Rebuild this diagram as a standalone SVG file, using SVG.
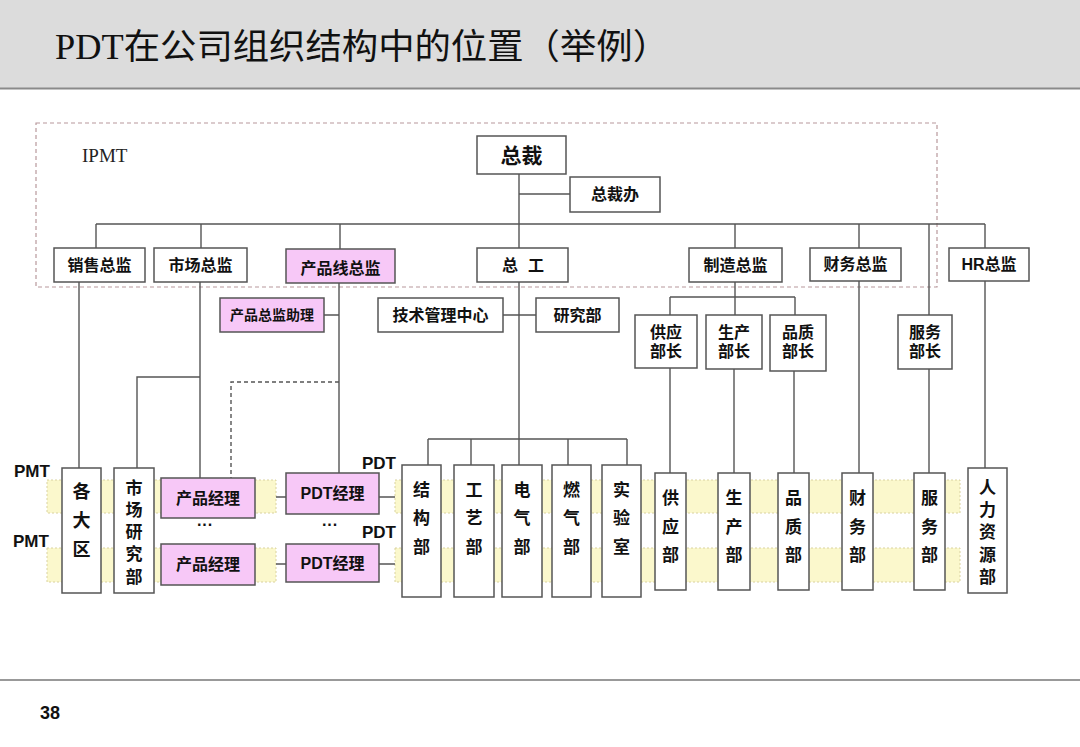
<svg xmlns="http://www.w3.org/2000/svg" width="1080" height="747" viewBox="0 0 1080 747">
<style>
.bx{fill:#fff;stroke:#555;stroke-width:1.5}
.pk{fill:#f7c8f7;stroke:#555;stroke-width:1.5}
.t{font-family:"Liberation Sans","Noto Sans CJK SC",sans-serif;font-weight:bold;fill:#111;text-anchor:middle;dominant-baseline:central}
.ln{fill:none;stroke:#555;stroke-width:1.4}
.band{fill:#fbf8cc;stroke:#d9d2a0;stroke-width:1;stroke-dasharray:2 2}
.lab{font-family:"Liberation Sans","Noto Sans CJK SC",sans-serif;font-weight:bold;font-size:17px;fill:#111}
</style>
<rect x="0" y="0" width="1080" height="747" fill="#fff"/>
<g id="header">
<rect x="0" y="0" width="1080" height="88" fill="#dcdcdc"/>
<line x1="0" y1="88.5" x2="1080" y2="88.5" stroke="#8a8a8a" stroke-width="2"/>
<text x="55" y="59" font-family="'Liberation Serif','Noto Sans CJK SC',serif" font-size="35" fill="#111" textLength="614" lengthAdjust="spacingAndGlyphs">PDT在公司组织结构中的位置（举例）</text>
</g>
<g id="footer">
<line x1="0" y1="680" x2="1080" y2="680" stroke="#999" stroke-width="2"/>
<text x="40" y="719" font-family="'Liberation Sans',sans-serif" font-weight="bold" font-size="18" fill="#111">38</text>
</g>
<g id="ipmt">
<rect x="36" y="123" width="901" height="164" fill="none" stroke="#b8989c" stroke-width="1.2" stroke-dasharray="4 3"/>
<text x="82" y="162" font-family="'Liberation Serif',serif" font-size="19" fill="#222">IPMT</text>
</g>
<g id="bands">
<rect class="band" x="47" y="480" width="229" height="33"/>
<rect class="band" x="395" y="480" width="565" height="33"/>
<rect class="band" x="47" y="548" width="229" height="34"/>
<rect class="band" x="395" y="548" width="565" height="34"/>
</g>
<g id="connectors">
<path class="ln" d="M519 174V248M519 194H570M96 224H985"/>
<path class="ln" d="M96 224V248M201 224V248M340 224V249M735 224V248M859 224V248M929 224V315M985 224V248"/>
<path class="ln" d="M79 282V468M200 282V478M200 377H137V468"/>
<path class="ln" d="M339 283V473M324 315H339"/>
<path class="ln" d="M339 382H231V478" stroke-dasharray="4 3"/>
<path class="ln" d="M519 282V439M503 315H536M428 439H627M428 439V465M471 439V465M519 439V465M568 439V465M627 439V465"/>
<path class="ln" d="M735 282V297M670 297H795M670 297V315M795 297V315M735 297V315"/>
<path class="ln" d="M670 368V473M734 369V473M794 371V473M859 281V473M929 369V473M985 281V468"/>
<path class="ln" d="M276 497H286M379 497H395M276 564H286M379 564H395"/>
</g>
<g id="n-zongcai"><rect class="bx" x="477" y="136" width="89" height="38"/><text class="t" x="521.5" y="155" font-size="21">总裁</text></g>
<g id="n-zongcaiban"><rect class="bx" x="570" y="177" width="90" height="35"/><text class="t" x="615" y="194.5" font-size="16">总裁办</text></g>
<g id="n-xiaoshou"><rect class="bx" x="54" y="248" width="91" height="34"/><text class="t" x="99.5" y="265" font-size="16">销售总监</text></g>
<g id="n-shichang"><rect class="bx" x="154" y="248" width="93" height="34"/><text class="t" x="200.5" y="265" font-size="16">市场总监</text></g>
<g id="n-chanpinxian"><rect class="pk" x="286" y="249" width="109" height="34"/><text class="t" x="340.5" y="268" font-size="16">产品线总监</text></g>
<g id="n-zonggong"><rect class="bx" x="477" y="248" width="91" height="34"/><text class="t" x="510" y="265" font-size="16">总</text><text class="t" x="536" y="265" font-size="16">工</text></g>
<g id="n-zhizao"><rect class="bx" x="689" y="248" width="93" height="34"/><text class="t" x="735.5" y="265" font-size="16">制造总监</text></g>
<g id="n-caiwu"><rect class="bx" x="810" y="248" width="91" height="33"/><text class="t" x="855.5" y="264.5" font-size="16">财务总监</text></g>
<g id="n-hr"><rect class="bx" x="949" y="248" width="80" height="33"/><text class="t" x="989" y="264.5" font-size="16">HR总监</text></g>
<g id="n-zhuli"><rect class="pk" x="220" y="298" width="104" height="34"/><text class="t" x="272" y="315" font-size="14">产品总监助理</text></g>
<g id="n-jishu"><rect class="bx" x="378" y="298" width="125" height="34"/><text class="t" x="440.5" y="315" font-size="16">技术管理中心</text></g>
<g id="n-yanjiu"><rect class="bx" x="536" y="298" width="83" height="34"/><text class="t" x="577.5" y="315" font-size="16">研究部</text></g>
<g id="n-gongyingbz"><rect class="bx" x="635" y="315" width="62" height="53"/><text class="t" x="666" y="332" font-size="16">供应</text><text class="t" x="666" y="351" font-size="16">部长</text></g>
<g id="n-shengchanbz"><rect class="bx" x="706" y="315" width="56" height="54"/><text class="t" x="734" y="332" font-size="16">生产</text><text class="t" x="734" y="351" font-size="16">部长</text></g>
<g id="n-pinzhibz"><rect class="bx" x="770" y="315" width="56" height="56"/><text class="t" x="798" y="332" font-size="16">品质</text><text class="t" x="798" y="351" font-size="16">部长</text></g>
<g id="n-fuwubz"><rect class="bx" x="898" y="315" width="54" height="54"/><text class="t" x="925" y="332" font-size="16">服务</text><text class="t" x="925" y="351" font-size="16">部长</text></g>
<g id="n-gedaqu"><rect class="bx" x="62" y="468" width="39" height="125"/><text class="t" x="81.5" y="492" font-size="18">各</text><text class="t" x="81.5" y="521" font-size="18">大</text><text class="t" x="81.5" y="550" font-size="18">区</text></g>
<g id="n-shichangyj"><rect class="bx" x="114" y="468" width="40" height="125"/><text class="t" x="134" y="488" font-size="17">市</text><text class="t" x="134" y="510" font-size="17">场</text><text class="t" x="134" y="532" font-size="17">研</text><text class="t" x="134" y="554" font-size="17">究</text><text class="t" x="134" y="577" font-size="17">部</text></g>
<g id="n-cpjl1"><rect class="pk" x="161" y="478" width="94" height="40"/><text class="t" x="208" y="498" font-size="16">产品经理</text></g>
<g id="n-cpjl2"><rect class="pk" x="161" y="544" width="94" height="41"/><text class="t" x="208" y="564.5" font-size="16">产品经理</text></g>
<g id="n-pdtjl1"><rect class="pk" x="286" y="473" width="93" height="41"/><text class="t" x="332.5" y="493.5" font-size="16">PDT经理</text></g>
<g id="n-pdtjl2"><rect class="pk" x="286" y="544" width="93" height="38"/><text class="t" x="332.5" y="563" font-size="16">PDT经理</text></g>
<g id="dots"><text class="t" x="205" y="524" font-size="16">···</text><text class="t" x="330" y="524" font-size="16">···</text></g>
<g id="n-jiegou"><rect class="bx" x="402" y="465" width="39" height="132"/><text class="t" x="421.5" y="490" font-size="17">结</text><text class="t" x="421.5" y="518" font-size="17">构</text><text class="t" x="421.5" y="547" font-size="17">部</text></g>
<g id="n-gongyi"><rect class="bx" x="454" y="465" width="40" height="132"/><text class="t" x="474" y="490" font-size="17">工</text><text class="t" x="474" y="518" font-size="17">艺</text><text class="t" x="474" y="547" font-size="17">部</text></g>
<g id="n-dianqi"><rect class="bx" x="502" y="465" width="40" height="132"/><text class="t" x="522" y="490" font-size="17">电</text><text class="t" x="522" y="518" font-size="17">气</text><text class="t" x="522" y="547" font-size="17">部</text></g>
<g id="n-ranqi"><rect class="bx" x="552" y="465" width="39" height="132"/><text class="t" x="571.5" y="490" font-size="17">燃</text><text class="t" x="571.5" y="518" font-size="17">气</text><text class="t" x="571.5" y="547" font-size="17">部</text></g>
<g id="n-shiyan"><rect class="bx" x="602" y="465" width="39" height="132"/><text class="t" x="621.5" y="490" font-size="17">实</text><text class="t" x="621.5" y="518" font-size="17">验</text><text class="t" x="621.5" y="547" font-size="17">室</text></g>
<g id="n-gongying"><rect class="bx" x="655" y="473" width="31" height="117"/><text class="t" x="670.5" y="498" font-size="17">供</text><text class="t" x="670.5" y="527" font-size="17">应</text><text class="t" x="670.5" y="555" font-size="17">部</text></g>
<g id="n-shengchan"><rect class="bx" x="718" y="473" width="32" height="117"/><text class="t" x="734" y="498" font-size="17">生</text><text class="t" x="734" y="527" font-size="17">产</text><text class="t" x="734" y="555" font-size="17">部</text></g>
<g id="n-pinzhi"><rect class="bx" x="778" y="473" width="31" height="117"/><text class="t" x="793.5" y="498" font-size="17">品</text><text class="t" x="793.5" y="527" font-size="17">质</text><text class="t" x="793.5" y="555" font-size="17">部</text></g>
<g id="n-caiwubu"><rect class="bx" x="842" y="473" width="31" height="117"/><text class="t" x="857.5" y="498" font-size="17">财</text><text class="t" x="857.5" y="527" font-size="17">务</text><text class="t" x="857.5" y="555" font-size="17">部</text></g>
<g id="n-fuwu"><rect class="bx" x="914" y="473" width="31" height="117"/><text class="t" x="929.5" y="498" font-size="17">服</text><text class="t" x="929.5" y="527" font-size="17">务</text><text class="t" x="929.5" y="555" font-size="17">部</text></g>
<g id="n-renli"><rect class="bx" x="968" y="468" width="39" height="125"/><text class="t" x="987.5" y="488" font-size="17">人</text><text class="t" x="987.5" y="510" font-size="17">力</text><text class="t" x="987.5" y="532" font-size="17">资</text><text class="t" x="987.5" y="555" font-size="17">源</text><text class="t" x="987.5" y="577" font-size="17">部</text></g>
<g id="labels">
<text class="lab" x="14" y="477">PMT</text>
<text class="lab" x="13" y="547">PMT</text>
<text class="lab" x="362" y="469">PDT</text>
<text class="lab" x="362" y="538">PDT</text>
</g>
</svg>
